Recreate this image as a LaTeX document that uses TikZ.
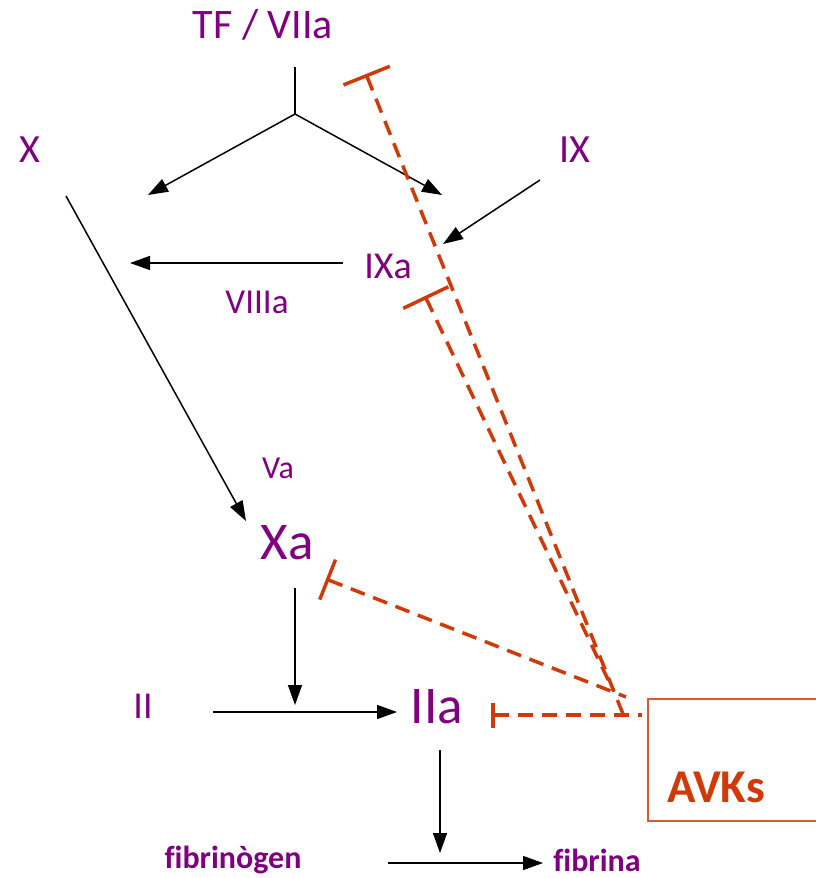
\documentclass[tikz,border=0pt]{standalone}
\usepackage{fontspec}
\setmainfont[Ligatures=NoCommon]{Carlito}
\usetikzlibrary{arrows.meta}
\definecolor{fac}{RGB}{128,0,128}
\definecolor{avk}{RGB}{208,58,8}
\definecolor{avkbox}{RGB}{214,90,50}
\tikzset{
  lbl/.style={text=fac, inner sep=0pt, font=\fontsize{#1}{#1}\selectfont},
  blbl/.style={text=fac, inner sep=0pt, font=\bfseries\fontsize{#1}{#1}\selectfont},
  act/.style={line width=1.5pt, -{Triangle[length=20pt,width=14pt]}},
  plain/.style={line width=1.5pt},
  inh/.style={draw=avk, line width=3.5pt, dash pattern=on 15pt off 9pt, {Bar[width=#1,line width=3.5pt]}-},
}
\begin{document}
\begin{tikzpicture}[x=1pt,y=-1pt]
\useasboundingbox (0,0) rectangle (816,878);
% labels
\node[lbl=42] (tf) at (263,25) {TF / VIIa};
\node[lbl=40] (x) at (30,150) {X};
\node[lbl=40] (ix) at (575,150) {IX};
\node[lbl=38] (ixa) at (388,266) {IXa};
\node[lbl=35] (viiia) at (257,302) {VIIIa};
\node[lbl=32] (va) at (278,468) {Va};
\node[lbl=53] (xa) at (287,543) {Xa};
\node[lbl=38] (ii) at (143,706) {II};
\node[lbl=53] (iia) at (437,707) {IIa};
\node[blbl=32] (fgen) at (233,860) {fibrinògen};
\node[blbl=32] (fina) at (597,860) {fibrina};
\node[draw=avkbox, line width=2pt, minimum width=190pt, minimum height=122pt, anchor=north west, inner sep=0pt] (avkbox) at (647,698) {};
\node[text=avk, inner sep=0pt, font=\bfseries\fontsize{47}{47}\selectfont] (avks) at (716,787) {AVKs};
% coordinates
\coordinate (stemtop) at (295,67);
\coordinate (fork) at (295,114);
\coordinate (tox) at (148,195);
\coordinate (toix) at (442,195);
\coordinate (ixs) at (540,180);
\coordinate (ixe) at (443,244);
\coordinate (ixas) at (343,263);
\coordinate (ixae) at (130,263);
\coordinate (xs) at (66,196);
\coordinate (xe) at (246,521);
\coordinate (xas) at (295,588);
\coordinate (xae) at (295,705);
\coordinate (iis) at (213,712);
\coordinate (iie) at (397,712);
\coordinate (iias) at (440,750);
\coordinate (iiae) at (440,853);
\coordinate (fs) at (388,863);
\coordinate (fe) at (543,863);
% black connectors
\draw[plain] (stemtop) -- (fork);
\draw[act] (fork) -- (tox);
\draw[act] (fork) -- (toix);
\draw[act] (ixs) -- (ixe);
\draw[act] (ixas) -- (ixae);
\draw[act] (xs) -- (xe);
\draw[act] (xas) -- (xae);
\draw[act] (iis) -- (iie);
\draw[act] (iias) -- (iiae);
\draw[act] (fs) -- (fe);
% inhibition
\coordinate (b1) at (366,74);
\coordinate (e1) at (623,714);
\coordinate (b2) at (425,296);
\coordinate (e2) at (613,690);
\coordinate (b3) at (326,579);
\coordinate (e3) at (626,697);
\coordinate (b4) at (491,715);
\coordinate (e4) at (642,715);
\draw[inh=50pt] (b1) -- (e1);
\draw[inh=50pt] (b2) -- (e2);
\draw[inh=43pt] (b3) -- (e3);
\draw[inh=25pt] (b4) -- (e4);
\end{tikzpicture}
\end{document}
